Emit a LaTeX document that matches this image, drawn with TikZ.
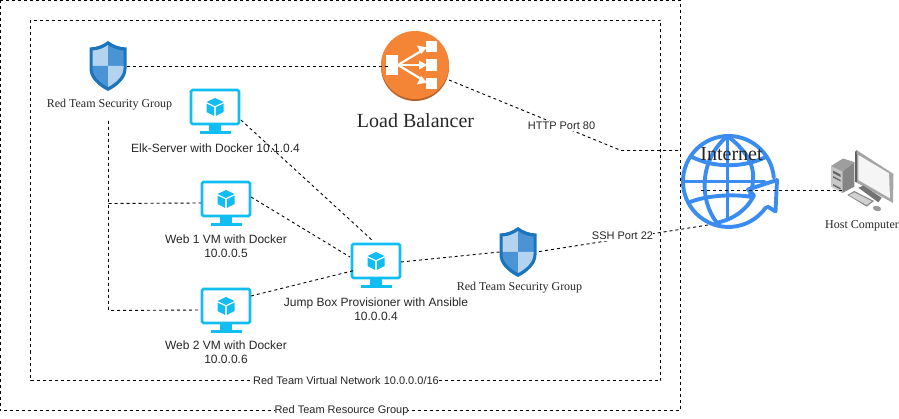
\documentclass[tikz,border=0pt]{standalone}
\usepackage{fontspec}
\setmainfont{Liberation Serif}
\setsansfont{Liberation Sans}
\begin{document}
\begin{tikzpicture}[x=1pt,y=-1pt,
  dashln/.style={draw=black,line width=0.9pt,dash pattern=on 3pt off 3pt},
  anchorbox/.style={inner sep=0pt,outer sep=0pt,minimum width=#1},
  lab/.style={font=\sffamily\fontsize{12}{13.5}\selectfont,text=black!85,align=center,inner sep=0pt},
  serlab/.style={font=\rmfamily\fontsize{12}{13}\selectfont,text=black!85,align=center,inner sep=0pt},
  wlab/.style={font=\sffamily\fontsize{11}{13}\selectfont,text=black!85,fill=white,inner xsep=0pt,inner ysep=1pt},
  vmicon/.pic={
    \fill[cy] (-6,26) rectangle (6,32);
    \fill[cy] (-15.5,32.5) rectangle (15.5,34.7);
    \draw[cy,line width=2.6pt,fill=white,rounded corners=1.5pt] (-24,-9) rectangle (24,25);
    \fill[cy] (0,-1) -- (8.5,3) -- (0,7) -- (-8.5,3) -- cycle;
    \fill[cy] (-8.5,4.6) -- (-0.8,8.2) -- (-0.8,17) -- (-8.5,13) -- cycle;
    \fill[cy] (8.5,4.6) -- (0.8,8.2) -- (0.8,17) -- (8.5,13) -- cycle;
  },
  shieldicon/.pic={
    \fill[shd] (0,-25) .. controls (5,-21) and (12,-18.5) .. (18.5,-18.5)
       -- (18.5,3) .. controls (18.5,12) and (10,20) .. (0,25)
       .. controls (-10,20) and (-18.5,12) .. (-18.5,3) -- (-18.5,-18.5)
       .. controls (-12,-18.5) and (-5,-21) .. (0,-25) -- cycle;
    \fill[shl] (0,-21) .. controls (-4,-18) and (-10,-15.5) .. (-15.5,-15.5) -- (-15.5,0) -- (0,0) -- cycle;
    \fill[shm] (0,-21) .. controls (4,-18) and (10,-15.5) .. (15.5,-15.5) -- (15.5,0) -- (0,0) -- cycle;
    \fill[shm] (-15.5,0) -- (0,0) -- (0,21) .. controls (-8,17) and (-15.5,10) .. (-15.5,2) -- cycle;
    \fill[shl] (15.5,0) -- (0,0) -- (0,21) .. controls (8,17) and (15.5,10) .. (15.5,2) -- cycle;
  }
]
\definecolor{cy}{HTML}{12BDF2}
\definecolor{shd}{HTML}{1B75BC}
\definecolor{shl}{HTML}{B3D3EF}
\definecolor{shm}{HTML}{4A94D6}
\definecolor{lbo}{HTML}{F58536}
\definecolor{lbd}{HTML}{B9632A}
\definecolor{gb}{HTML}{3A8CF0}
\useasboundingbox (0,0) rectangle (899,419);

% group boxes
\coordinate (outerNW) at (0,0.5);
\coordinate (outerSE) at (680.5,410.5);
\coordinate (innerNW) at (30.5,20.5);
\coordinate (innerSE) at (660.5,380.5);
\draw[dashln] (outerNW) rectangle (outerSE);
\draw[dashln] (innerNW) rectangle (innerSE);

% load balancer
\fill[lbd] (415,67) circle (34);
\fill[lbo] (415,65) circle (34);
\begin{scope}[white]
  \fill (386,55) rectangle (398,75);
  \fill (426,41) rectangle (437,52);
  \fill (426,59) rectangle (437,71);
  \fill (426,78) rectangle (437,89);
  \draw[line width=2.2pt] (398,65) -- (422,50.5);
  \draw[line width=2.2pt] (398,65) -- (422,65);
  \draw[line width=2.2pt] (398,65) -- (422,79.5);
  \fill (427,47.5) -- (417,45.5) -- (421,54) -- cycle;
  \fill (427,65) -- (419,60.5) -- (419,69.5) -- cycle;
  \fill (427,82.5) -- (421,76) -- (417,84.5) -- cycle;
\end{scope}
\coordinate (lbW) at (390,66);
\coordinate (lbE) at (449,80);

% shields
\pic at (108,66) {shieldicon};
\pic at (518,252) {shieldicon};
\node[anchorbox=37pt,minimum height=50pt] (sgA) at (108,66) {};
\node[anchorbox=37pt,minimum height=50pt] (sgB) at (518,252) {};

% VMs
\pic at (215,99) {vmicon};
\pic at (226,191) {vmicon};
\pic at (226,298) {vmicon};
\pic at (376,253) {vmicon};
\coordinate (elkOut) at (241,120);
\coordinate (webAOut) at (251,197);
\coordinate (webBOut) at (251,296);
\coordinate (webAIn) at (201,203);
\coordinate (webBIn) at (201,310);
\coordinate (jumpTop) at (373,241);
\coordinate (jumpLA) at (350,257);
\coordinate (jumpLB) at (356,270);
\coordinate (jumpR) at (401,262);

% globe
\begin{scope}[gb,line width=3.9pt,line cap=round,line join=round]
  \draw (773.8,177.5) arc[start angle=5,end angle=325,radius=45.5pt];
  \draw (727.5,136) -- (727.5,217);
  \draw (727.5,136) .. controls (699,160) and (699,200) .. (717,223);
  \draw (727.5,136) .. controls (756,158) and (756,176) .. (750,195);
  \draw (683,181.5) -- (764,181.5);
  \draw (692,157) .. controls (714,168) and (743,168) .. (766,157);
  \draw (690,202) .. controls (708,195) and (735,194) .. (752,197);
  \draw (754,195.5) .. controls (747,209) and (735,219) .. (716,223);
  \draw (754,195.5) -- (748,189.5) -- (777,180) -- (775.5,211.5) -- (767.5,206.5);
\end{scope}
\coordinate (netIn) at (701,190.5);
\coordinate (netSsh) at (708,225);

% host computer
\fill[black!22] (831,166) -- (842.3,171.5) -- (842.3,193) -- (831,186.7) -- cycle;
\fill[black!48] (842.3,171.5) -- (854.3,162) -- (854.3,186.7) -- (842.3,193) -- cycle;
\fill[black!38] (831,166) -- (843,158.5) -- (854.3,162) -- (842.3,171.5) -- cycle;
\fill[black!60] (833,170.5) -- (840.5,174.5) -- (840.5,177) -- (833,173) -- cycle;
\fill[black!60] (833,176) -- (840.5,180) -- (840.5,181.5) -- (833,177.5) -- cycle;
\fill[black!60] (833,184) -- (840.5,188) -- (840.5,189.5) -- (833,185.5) -- cycle;
\fill[black!35] (856.5,150) -- (893.5,174) -- (893,203) -- (855,181.7) -- (855,152) -- cycle;
\fill[black!62] (855,152) -- (856.7,150.5) -- (857,182.3) -- (855,181.7) -- cycle;
\fill[black!4] (858.3,155) -- (889,173.3) -- (890,198.3) -- (858.3,180) -- cycle;
\fill[black!55] (858.3,187.7) -- (863.3,185.7) -- (881.7,197.7) -- (878.3,202.3) -- cycle;
\fill[black!45] (847.3,195) -- (854.3,191) -- (874,201) -- (866.7,206.7) -- cycle;
\fill[black!18] (849,195.2) -- (854.3,192.5) -- (871.7,201.2) -- (866.7,205) -- cycle;
\fill[black!40,rotate around={-15:(877,208.5)}] (877,208.5) ellipse (4.2 and 2.6);
\coordinate (hostIn) at (842,190.5);

% connectors
\coordinate (bendHttp) at (621,150.5);
\coordinate (httpEnd) at (679,150.5);
\coordinate (treeA) at (108.5,203.5);
\coordinate (treeB) at (108.5,310.5);
\coordinate (treeTop) at (108.5,121);
\draw[dashln] (sgA.east) -- (lbW);
\draw[dashln] (lbE) -- (bendHttp) -- (httpEnd);
\draw[dashln] (netIn) -- (hostIn);
\draw[dashln] (netSsh) -- (sgB.east);
\draw[dashln] (sgB.west) -- (jumpR);
\draw[dashln] (elkOut) -- (jumpTop);
\draw[dashln] (webAOut) -- (jumpLA);
\draw[dashln] (webBOut) -- (jumpLB);
\draw[dashln] (treeTop) -- (treeB) -- (webBIn);
\draw[dashln] (treeA) -- (webAIn);

% labels
\node[lab] (lblElk) at (215.5,148) {Elk-Server with Docker 10.1.0.4};
\node[lab] (lblA) at (226,246) {Web 1 VM with Docker\\10.0.0.5};
\node[lab] (lblB) at (226,352) {Web 2 VM with Docker\\10.0.0.6};
\node[lab] (lblJ) at (376,309) {Jump Box Provisioner with Ansible\\10.0.0.4};
\node[serlab] (lblS1) at (109.5,105) {Red Team Security Group};
\node[serlab] (lblS2) at (519.5,288) {Red Team Security Group};
\node[font=\rmfamily\fontsize{20}{22}\selectfont,text=black!85,inner sep=0pt] (lblLB) at (415.5,121) {Load Balancer};
\node[font=\rmfamily\fontsize{20}{22}\selectfont,text=black!85,inner sep=0pt] (lblN) at (731.5,154) {Internet};
\node[serlab] (lblH) at (862,226) {Host Computer};
\node[wlab] (lblHttp) at (561.5,126) {HTTP Port 80};
\node[wlab] (lblSsh) at (622.5,236) {SSH Port 22};
\node[wlab] (lblV) at (346,381) {Red Team Virtual Network 10.0.0.0/16};
\node[wlab] (lblR) at (341.5,411) {Red Team Resource Group};
\end{tikzpicture}
\end{document}
